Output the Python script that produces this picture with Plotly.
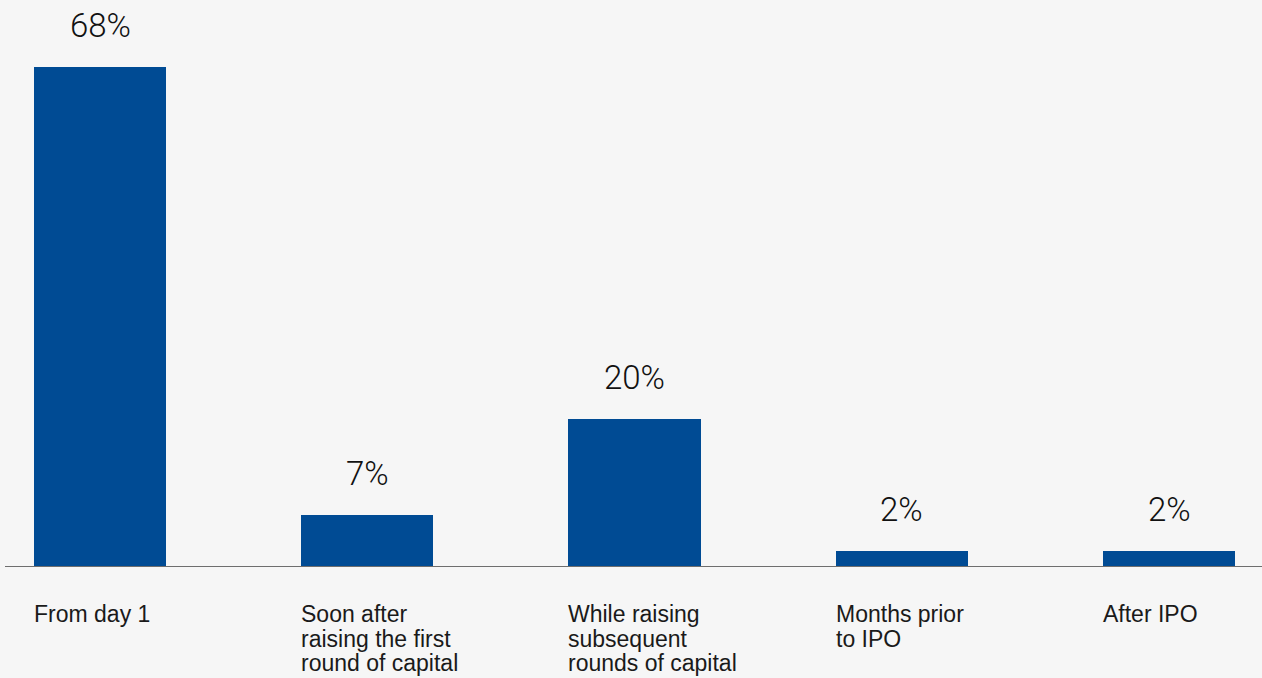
import plotly.graph_objects as go

categories = ["From day 1", "Soon after raising the first round of capital",
              "While raising subsequent rounds of capital", "Months prior to IPO", "After IPO"]
label_lines = [
    ["From day 1"],
    ["Soon after", "raising the first", "round of capital"],
    ["While raising", "subsequent", "rounds of capital"],
    ["Months prior", "to IPO"],
    ["After IPO"],
]
values = [68, 7, 20, 2, 2]
value_labels = ["68%", "7%", "20%", "2%", "2%"]

BAR_COLOR = "#004b94"
BG = "#f6f6f6"
BAR_W = 0.494
xs = list(range(len(categories)))

fig = go.Figure()
fig.add_trace(go.Bar(x=xs, y=values, width=BAR_W, marker=dict(color=BAR_COLOR, line=dict(width=0)),
                     hoverinfo="skip"))

ann = []
for i, (v, t) in enumerate(zip(values, value_labels)):
    ann.append(dict(x=i, y=v, xref="x", yref="y", text=t, showarrow=False,
                    xanchor="center", yanchor="bottom", yshift=20,
                    font=dict(family="Roboto, Liberation Sans, sans-serif", size=33, color="#111111", weight=300)))
for i, lines in enumerate(label_lines):
    for j, line in enumerate(lines):
        ann.append(dict(x=i - BAR_W / 2, y=0, xref="x", yref="y", text=line, showarrow=False,
                        xanchor="left", yanchor="top", yshift=-33 - 24.5 * j, xshift=-2,
                        font=dict(family="Liberation Sans, Arial, sans-serif", size=23, color="#1a1a1a")))

fig.update_layout(
    width=1262, height=678,
    margin=dict(l=5, r=0, t=0, b=112),
    paper_bgcolor=BG, plot_bgcolor=BG,
    showlegend=False,
    bargap=0,
    xaxis=dict(range=[(5 - 100) / 267.25, (1262 - 100) / 267.25], showgrid=False, zeroline=False,
               showticklabels=False, ticks="", showline=True, linecolor="#6e6e6e", linewidth=1),
    yaxis=dict(range=[0, 77.17], showgrid=False, zeroline=False, showticklabels=False, ticks="",
               showline=False),
    annotations=ann,
)
fig.write_html("out.html", config={"displayModeBar": False},
               post_script="document.body.style.margin='0';document.body.style.overflow='hidden';document.body.style.background='%s';" % BG)
